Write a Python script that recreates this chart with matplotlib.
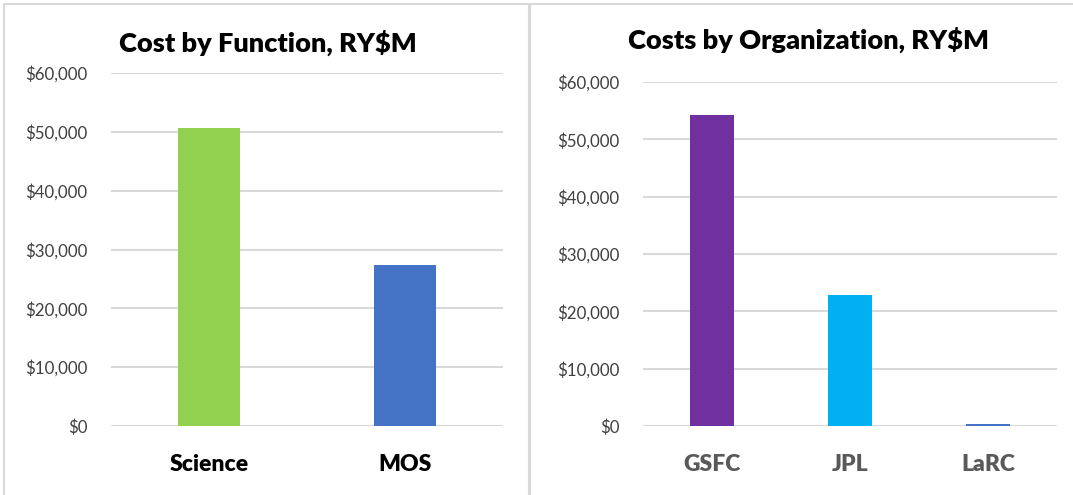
import matplotlib
matplotlib.use("Agg")
import matplotlib.pyplot as plt
from matplotlib.patches import Rectangle
from matplotlib.ticker import FuncFormatter

# data (RY$M)
function_names = ["Science", "MOS"]
function_costs = [50650, 27400]
function_colors = ["#92d050", "#4472c4"]

org_names = ["GSFC", "JPL", "LaRC"]
org_costs = [54250, 22850, 300]
org_colors = ["#7030a0", "#00b0f0", "#4472c4"]

y_ticks = [0, 10000, 20000, 30000, 40000, 50000, 60000]

plt.rcParams['font.family'] = ['Lato', 'DejaVu Sans']

GRID = "#d9d9d9"
TICK = "#595959"

fig = plt.figure(figsize=(10.73, 4.95), dpi=100)

# panel frames
fig.patches.append(Rectangle((4 / 1073, -0.01), 525 / 1073, 1 - 4 / 495 + 0.01,
                             transform=fig.transFigure, fill=False,
                             edgecolor=GRID, linewidth=1.5))
fig.patches.append(Rectangle((530 / 1073, -0.01), 0.52, 1 - 4 / 495 + 0.01,
                             transform=fig.transFigure, fill=False,
                             edgecolor=GRID, linewidth=1.5))


def money(v, pos):
    return "${:,.0f}".format(v)


def style_axes(ax, label_color):
    ax.set_ylim(0, 60000)
    ax.set_yticks(y_ticks)
    ax.yaxis.set_major_formatter(FuncFormatter(money))
    ax.grid(axis='y', color=GRID, linewidth=1.5)
    ax.set_axisbelow(True)
    for s in ax.spines.values():
        s.set_visible(False)
    ax.tick_params(axis='y', length=0, pad=17, labelsize=12.2, labelcolor="#404040")
    ax.tick_params(axis='x', length=0, pad=20, labelsize=16.5, labelcolor=label_color)
    for t in ax.get_xticklabels():
        t.set_fontweight('heavy')


ax1 = fig.add_axes([111 / 1073, 1 - 426 / 495, 392 / 1073, 353 / 495])
ax1.bar(range(len(function_names)), function_costs, width=0.316, color=function_colors)
ax1.set_xlim(-0.5, len(function_names) - 0.5)
ax1.set_xticks(range(len(function_names)))
ax1.set_xticklabels(function_names)
style_axes(ax1, "black")
fig.text(268 / 1073, 1 - 43 / 495, "Cost by Function, RY$M", ha='center', va='center',
         fontsize=19.5, fontweight='heavy')

ax2 = fig.add_axes([643 / 1073, 1 - 426 / 495, 414 / 1073, 344 / 495])
ax2.bar(range(len(org_names)), org_costs, width=0.326, color=org_colors)
ax2.set_xlim(-0.5, len(org_names) - 0.5)
ax2.set_xticks(range(len(org_names)))
ax2.set_xticklabels(org_names)
style_axes(ax2, TICK)
fig.text(808 / 1073, 1 - 40 / 495, "Costs by Organization, RY$M", ha='center', va='center',
         fontsize=19.5, fontweight='heavy')

fig.savefig("out.png", dpi=100)
